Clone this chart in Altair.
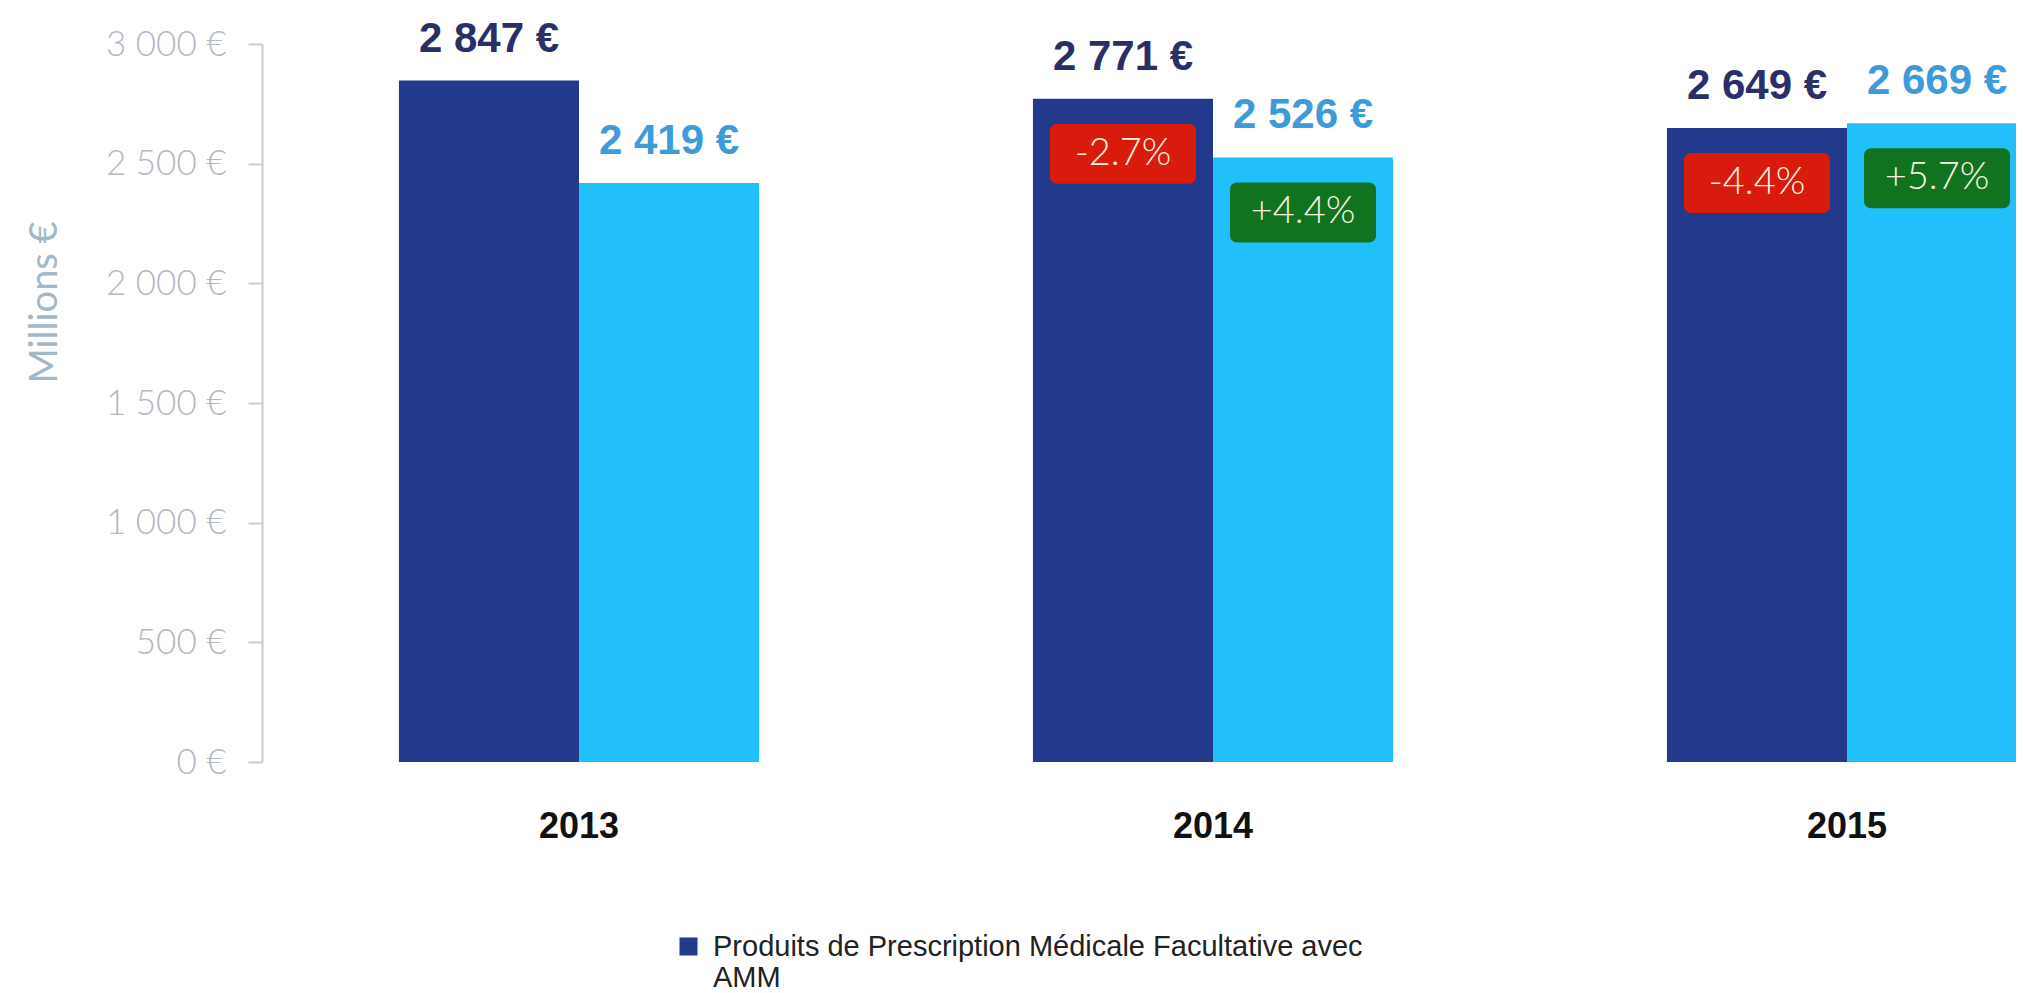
import altair as alt
import pandas as pd

# ---- data ----
years = ["2013", "2014", "2015"]
series = [
    "Produits de Prescription Médicale Facultative avec AMM",
    "Produits de Prescription Médicale Facultative sans AMM",
]
dark_values = [2847, 2771, 2649]
light_values = [2419, 2526, 2669]
dark_changes = ["", "-2.7%", "-4.4%"]
light_changes = ["", "+4.4%", "+5.7%"]
y_ticks = [0, 500, 1000, 1500, 2000, 2500, 3000]
legend_lines = ["Produits de Prescription Médicale Facultative avec", "AMM"]

rows = []
for i, yr in enumerate(years):
    rows.append({"year": yr, "series": series[0], "value": dark_values[i], "change": dark_changes[i]})
    rows.append({"year": yr, "series": series[1], "value": light_values[i], "change": light_changes[i]})
df = pd.DataFrame(rows)

DARK = "#22398c"
LIGHT = "#22c0fa"
DARK_TXT = "#2a2f68"
LIGHT_TXT = "#3d9bd9"
RED = "#d81b0c"
GREEN = "#11731f"
LIGHT_FONT = "Lato, Open Sans, sans-serif"
ARIAL = "Liberation Sans, Arial, sans-serif"

euro_expr = "replace(format(datum.value, ','), ',', ' ') + ' €'"

x_enc = alt.X(
    "year:N",
    sort=years,
    scale=alt.Scale(range=[0, 1902], paddingInner=0.432, paddingOuter=0.216),
    axis=alt.Axis(
        title=None, domain=False, ticks=False, labelAngle=0,
        labelFontSize=36, labelFontWeight="bold", labelColor="#111111",
        labelFont=ARIAL, labelPadding=47,
    ),
)
xoff_enc = alt.XOffset("series:N", sort=series,
                       scale=alt.Scale(domain=series, paddingInner=0, paddingOuter=0))

y_scale = alt.Scale(domain=[0, 3000], nice=False)

base = alt.Chart(df).encode(x=x_enc, xOffset=xoff_enc)

bars = base.mark_bar(clip=True).encode(
    y=alt.Y(
        "value:Q", scale=y_scale,
        axis=alt.Axis(
            values=y_ticks, labelExpr=euro_expr, grid=False,
            domainColor="#c6ccd4", domainWidth=2,
            tickColor="#c6ccd4", tickSize=14, tickWidth=2,
            labelFontSize=35, labelColor="#b3b9c1", labelFont=LIGHT_FONT,
            labelFontWeight=300, labelPadding=22,
            title="Millions €", titleFontSize=38, titleColor="#a3b8c8",
            titleFont=LIGHT_FONT, titleFontWeight="normal", titleAngle=-90,
            titleX=-217, titleY=258, titleAlign="center", titleBaseline="middle",
        ),
    ),
    color=alt.Color(
        "series:N",
        scale=alt.Scale(domain=series, range=[DARK, LIGHT]),
        legend=alt.Legend(
            values=[series[0]], title=None, orient="none",
            legendX=412, legendY=888,
            symbolType="square", symbolSize=324, symbolStrokeWidth=0,
            labelFontSize=29, labelFont=ARIAL, labelColor="#222222",
            labelLimit=0, labelOffset=10,
            labelExpr="datum.label == '" + series[0] + "' ? ['" + legend_lines[0] + "', '" + legend_lines[1] + "'] : datum.label",
        ),
    ),
)

value_labels = base.transform_calculate(
    label=euro_expr
).mark_text(baseline="alphabetic", dy=-29, fontSize=42, fontWeight="bold", font=ARIAL).encode(
    y=alt.Y("value:Q", scale=y_scale),
    text="label:N",
    color=alt.condition(alt.datum.series == series[0], alt.value(DARK_TXT), alt.value(LIGHT_TXT)),
)

badges = base.transform_filter("datum.change != ''").mark_bar(
    width=146, cornerRadius=7, yOffset=25, y2Offset=85
).encode(
    y=alt.Y("value:Q", scale=y_scale),
    y2=alt.Y2("value"),
    color=alt.condition("indexof(datum.change, '-') == 0", alt.value(RED), alt.value(GREEN)),
)

badge_text = base.transform_filter("datum.change != ''").mark_text(
    baseline="middle", yOffset=55, fontSize=38, font=LIGHT_FONT, fontWeight=300, color="#fbf6e4"
).encode(
    y=alt.Y("value:Q", scale=y_scale),
    text="change:N",
)

chart = alt.layer(bars, value_labels, badges, badge_text).properties(
    width=1754, height=718,
    autosize=alt.AutoSizeParams(type="none"),
    padding={"left": 254, "top": 36, "right": 0, "bottom": 231},
    background="white",
).configure_view(stroke=None)

chart.save("out.html", embed_options={"renderer": "svg", "actions": False})
